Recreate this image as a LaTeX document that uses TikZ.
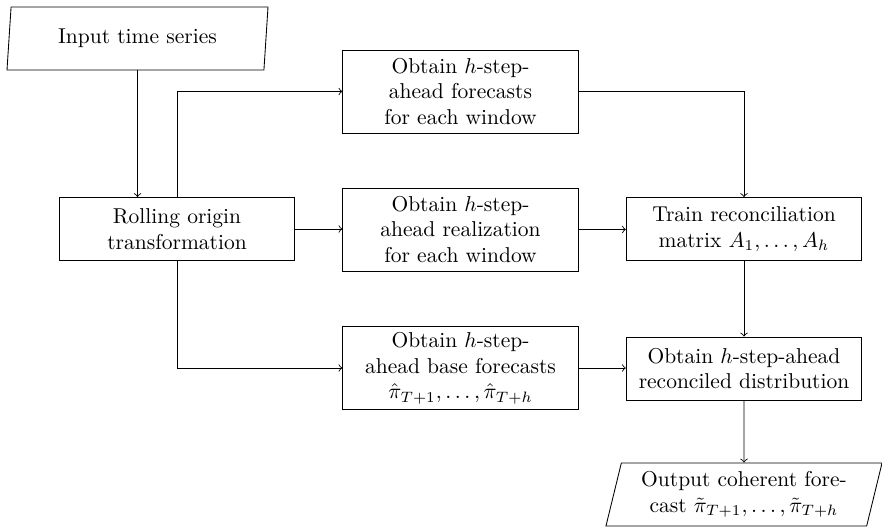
\documentclass[tikz,border=0pt]{standalone}
\usetikzlibrary{shapes.geometric,calc}
\begin{document}
\begin{tikzpicture}[x=0.4651pt,y=-0.4651pt,
  box/.style={draw, rectangle, align=center, minimum width=109.5pt, inner sep=2pt},
  twoline/.style={box, minimum height=29.3pt},
  threeline/.style={box, minimum height=38.6pt},
  io/.style={draw, trapezium, trapezium stretches body, align=center, minimum height=29.3pt, inner sep=1pt},
  conn/.style={->}]
\useasboundingbox (0,0) rectangle (882,527);

\node[io, trapezium left angle=80, trapezium right angle=100, minimum width=121.4pt] (input) at (137.5,38.5) {Input time series};
\node[twoline] (rolling) at (177,229) {Rolling origin\\transformation};
\node[threeline] (forecasts) at (460.5,91.5) {Obtain $h$-step-\\ahead forecasts\\for each window};
\node[threeline] (realization) at (460.5,229.5) {Obtain $h$-step-\\ahead realization\\for each window};
\node[threeline] (base) at (460.5,368) {Obtain $h$-step-\\ahead base forecasts\\$\hat{\pi}_{T+1},\ldots,\hat{\pi}_{T+h}$};
\node[twoline] (train) at (744,229) {Train reconciliation\\matrix $A_1,\ldots,A_h$};
\node[twoline] (reconciled) at (744,368.5) {Obtain $h$-step-ahead\\reconciled distribution};
\node[io, trapezium left angle=73, trapezium right angle=107, minimum width=128.4pt] (output) at (744,494.5) {Output coherent fore-\\cast $\tilde{\pi}_{T+1},\ldots,\tilde{\pi}_{T+h}$};

\draw[conn] (input.south) -- (input.south |- rolling.north);
\draw[conn] (rolling.north) |- (forecasts.west);
\draw[conn] (rolling.east) -- (rolling.east -| realization.west);
\draw[conn] (rolling.south) |- (base.west);
\draw[conn] (forecasts.east) -| (train.north);
\draw[conn] (realization.east) -- (realization.east -| train.west);
\draw[conn] (train.south) -- (reconciled.north);
\draw[conn] (base.east) -- (base.east -| reconciled.west);
\draw[conn] (reconciled.south) -- (output.north);
\end{tikzpicture}
\end{document}
